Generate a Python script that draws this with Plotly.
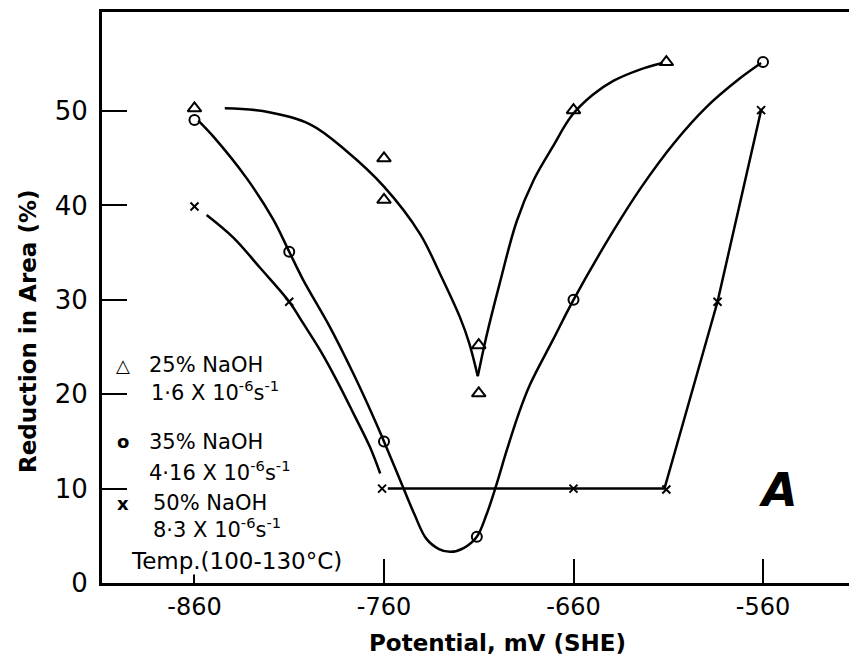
import plotly.graph_objects as go

# ---- measured points ----
pot_25 = [-860, -760, -760, -710, -710, -660, -611]
ra_25 = [50.3, 45.0, 40.6, 25.2, 20.1, 50.1, 55.2]

pot_35 = [-860, -810, -760, -711, -660, -560]
ra_35 = [49.05, 35.1, 15.0, 4.9, 30.0, 55.2]

pot_50 = [-860, -810, -761, -660, -611, -584, -561]
ra_50 = [39.9, 29.8, 10.0, 10.0, 9.9, 29.8, 50.1]

# ---- hand-drawn fitted curves ----
c25a_x = [-844, -824, -799, -780, -760, -741, -731, -720, -715, -710.5]
c25a_y = [50.3, 50.0, 48.6, 45.8, 42.0, 37.0, 33.0, 28.2, 25.4, 21.9]
c25b_x = [-710.5, -706, -699, -690, -681, -671, -661, -650, -639, -625, -613]
c25b_y = [21.9, 26.1, 31.7, 38.3, 42.7, 46.2, 49.5, 51.7, 53.2, 54.4, 55.1]

c35_x = [-858, -850, -832.5, -818.4, -810, -802.6, -789, -776.2, -765.6, -760,
         -752.5, -744, -737.7, -731, -725, -718, -711, -706, -701,
         -695, -689, -683, -671, -660, -639, -624, -607, -590, -572, -561]
c35_y = [49.0, 47.3, 42.9, 38.5, 35.1, 32.1, 27.3, 22.2, 17.6, 15.0,
         11.4, 7.3, 4.7, 3.6, 3.3, 3.7, 4.9, 7.2, 10.2,
         14.2, 17.9, 21.0, 25.7, 30.0, 37.3, 42.0, 46.6, 50.4, 53.5, 55.1]

c50a_x = [-853.6, -839.5, -825.4, -810, -802.6, -793.8, -785, -776.2, -767.4, -762]
c50a_y = [39.0, 36.6, 33.4, 29.8, 27.5, 24.7, 21.5, 18.0, 14.4, 11.6]
c50b_x = [-758, -612, -584, -561]
c50b_y = [10.0, 10.0, 29.8, 50.1]

x_ticks = [-860, -760, -660, -560]
x_labels = ["-860", "-760", "-660", "-560"]
y_ticks = [0, 10, 20, 30, 40, 50]
y_labels = ["0", "10", "20", "30", "40", "50"]

OFF = 8                      # page body margin
W, H = 857 - OFF, 661 - OFF
L, R, T, B = 94, 0, 4, 78
FONT = "DejaVu Sans"


def px(x):   # window pixel -> paper
    return (x - OFF - L) / (W - L - R)


def py(y):
    return (H - B - (y - OFF)) / (H - B - T)


fig = go.Figure()
line_style = dict(color="black", width=2.5)
for cx, cy, shape in [(c25a_x, c25a_y, "spline"), (c25b_x, c25b_y, "spline"),
                      (c35_x, c35_y, "spline"), (c50a_x, c50a_y, "spline"),
                      (c50b_x, c50b_y, "linear")]:
    fig.add_trace(go.Scatter(x=cx, y=cy, mode="lines", line=dict(shape=shape, smoothing=1.0, **line_style),
                             hoverinfo="skip", showlegend=False))

fig.add_trace(go.Scatter(x=pot_25, y=ra_25, mode="markers",
                         marker=dict(symbol="triangle-up-open", size=12, color="black", line=dict(width=2)),
                         showlegend=False))
fig.add_trace(go.Scatter(x=pot_35, y=ra_35, mode="markers",
                         marker=dict(symbol="circle-open", size=10, color="black", line=dict(width=2)),
                         showlegend=False))
fig.add_trace(go.Scatter(x=pot_50, y=ra_50, mode="markers",
                         marker=dict(symbol="x-thin-open", size=8, color="black", line=dict(width=2)),
                         showlegend=False))

ann = []
rows = [
    ("△", 123, 365, "25% NaOH", 148),
    (None, None, 391, "1·6 X 10<sup>-6</sup>s<sup>-1</sup>", 150),
    ("o", 123, 442, "35% NaOH", 148),
    (None, None, 471, "4·16 X 10<sup>-6</sup>s<sup>-1</sup>", 148),
    ("x", 123, 503, "50% NaOH", 152),
    (None, None, 528, "8·3 X 10<sup>-6</sup>s<sup>-1</sup>", 152),
    (None, None, 561, "Temp.(100-130°C)", 130),
]
for sym, sx, yy, txt, tx in rows:
    if sym:
        ann.append(dict(x=px(sx), y=py(yy), xref="paper", yref="paper", text="<b>" + sym + "</b>",
                        showarrow=False, xanchor="center", yanchor="middle",
                        font=dict(family=FONT, size=18, color="black")))
    is_temp = txt.startswith("Temp")
    ann.append(dict(x=px(tx), y=py(yy), xref="paper", yref="paper", text=txt, showarrow=False,
                    xanchor="left", yanchor="middle", bgcolor="white" if is_temp else None, borderpad=0,
                    font=dict(family=FONT, size=23 if is_temp else 21, color="black")))

ann.append(dict(x=px(778), y=py(490), xref="paper", yref="paper", text="<b><i>A</i></b>", showarrow=False,
                xanchor="center", yanchor="middle", font=dict(family=FONT, size=46, color="black")))
ann.append(dict(x=px(498), y=py(643), xref="paper", yref="paper", text="<b>Potential, mV (SHE)</b>",
                showarrow=False, xanchor="center", yanchor="middle", font=dict(family=FONT, size=23, color="black")))
ann.append(dict(x=px(28), y=py(332), xref="paper", yref="paper", text="<b>Reduction in Area (%)</b>",
                showarrow=False, textangle=-90, xanchor="center", yanchor="middle",
                font=dict(family=FONT, size=23, color="black")))

fig.update_layout(
    width=W, height=H,
    margin=dict(l=L, r=R, t=T, b=B),
    paper_bgcolor="white", plot_bgcolor="white",
    annotations=ann,
    xaxis=dict(range=[-908.8, -510.4], tickvals=x_ticks, ticktext=x_labels, ticks="inside", ticklen=24,
               tickwidth=2, tickcolor="black", showline=True, linewidth=3, linecolor="black", mirror=True,
               showgrid=False, zeroline=False, tickfont=dict(family=FONT, size=24, color="black")),
    yaxis=dict(range=[0, 60.5], tickvals=y_ticks, ticktext=y_labels, ticks="inside", ticklen=25,
               tickwidth=2, tickcolor="black", showline=True, linewidth=3, linecolor="black",
               ticklabelstandoff=6,
               showgrid=False, zeroline=False, tickfont=dict(family=FONT, size=26, color="black")),
)

fig.write_html("out.html")
